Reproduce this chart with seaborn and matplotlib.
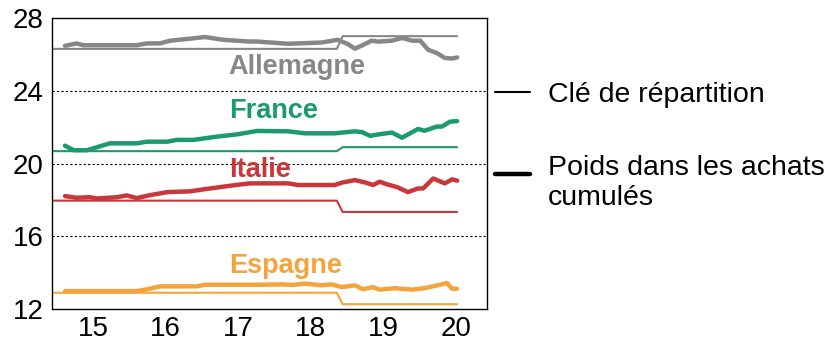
import matplotlib
matplotlib.use("Agg")
import matplotlib.pyplot as plt
import matplotlib.transforms as mtransforms
import numpy as np
import pandas as pd
import seaborn as sns

# Clé de répartition (dates en années décimales)
key_years = [2015.0, 2018.93, 2019.01, 2020.59]
key_de = [26.3, 26.3, 27.0, 27.0]
key_fr = [20.68, 20.68, 20.9, 20.9]
key_it = [17.96, 17.96, 17.34, 17.34]
key_es = [12.9, 12.9, 12.27, 12.27]

# Poids dans les achats cumulés
de_years = [2015.18, 2015.34, 2015.43, 2016.17, 2016.31, 2016.49, 2016.63, 2016.90, 2017.11,
            2017.36, 2017.73, 2017.80, 2018.26, 2018.72, 2018.94, 2019.08, 2019.18, 2019.32,
            2019.41, 2019.50, 2019.69, 2019.83, 2019.97, 2020.08, 2020.19, 2020.31, 2020.42,
            2020.52, 2020.59]
de_vals = [26.47, 26.6, 26.5, 26.5, 26.6, 26.6, 26.75, 26.86, 26.95,
           26.8, 26.7, 26.71, 26.58, 26.65, 26.8, 26.57, 26.31, 26.57,
           26.75, 26.7, 26.75, 26.9, 26.75, 26.75, 26.25, 26.07, 25.8,
           25.77, 25.83]

fr_years = [2015.18, 2015.30, 2015.48, 2015.80, 2016.17, 2016.31, 2016.59, 2016.72, 2016.95,
            2017.28, 2017.55, 2017.83, 2018.26, 2018.49, 2018.90, 2019.18, 2019.28, 2019.39,
            2019.50, 2019.69, 2019.83, 2019.94, 2020.05, 2020.14, 2020.31, 2020.38, 2020.49,
            2020.59]
fr_vals = [20.98, 20.73, 20.73, 21.11, 21.11, 21.2, 21.2, 21.3, 21.3,
           21.48, 21.6, 21.79, 21.77, 21.66, 21.66, 21.77, 21.72, 21.52,
           21.6, 21.7, 21.42, 21.66, 21.9, 21.8, 22.03, 22.03, 22.3,
           22.33]

it_years = [2015.18, 2015.34, 2015.52, 2015.62, 2015.90, 2016.03, 2016.17, 2016.35, 2016.59,
            2016.90, 2017.18, 2017.46, 2017.73, 2018.26, 2018.39, 2018.90, 2019.01, 2019.18,
            2019.32, 2019.43, 2019.52, 2019.63, 2019.77, 2019.91, 2020.05, 2020.12, 2020.26,
            2020.42, 2020.52, 2020.59]
it_vals = [18.21, 18.12, 18.15, 18.08, 18.15, 18.25, 18.1, 18.26, 18.43,
           18.47, 18.63, 18.78, 18.91, 18.91, 18.82, 18.82, 18.96, 19.09,
           18.96, 18.82, 19.0, 18.85, 18.69, 18.43, 18.63, 18.63, 19.18,
           18.91, 19.13, 19.06]

es_years = [2015.18, 2016.17, 2016.35, 2016.49, 2017.0, 2017.11, 2017.87, 2018.17, 2018.31,
            2018.49, 2018.72, 2018.86, 2019.0, 2019.18, 2019.29, 2019.43, 2019.52, 2019.73,
            2019.97, 2020.14, 2020.32, 2020.45, 2020.52, 2020.59]
es_vals = [12.99, 12.99, 13.12, 13.25, 13.25, 13.34, 13.34, 13.36, 13.33,
           13.4, 13.31, 13.36, 13.21, 13.31, 13.09, 13.21, 13.07, 13.15,
           13.07, 13.15, 13.31, 13.43, 13.12, 13.12]

countries = ["Allemagne", "France", "Italie", "Espagne"]
colors = ["#878787", "#1b9a6c", "#c8373a", "#f5a43c"]
year_labels = ["15", "16", "17", "18", "19", "20"]
y_ticks = [12, 16, 20, 24, 28]

sns.set_style("white")
plt.rcParams["font.family"] = ["Liberation Sans", "DejaVu Sans"]
plt.rcParams["text.color"] = "black"
plt.rcParams["xtick.color"] = "black"
plt.rcParams["ytick.color"] = "black"

fig = plt.figure(figsize=(8.38, 3.45), dpi=100)
ax = fig.add_axes([0.062, 0.104, 0.519, 0.844])

keys = [key_de, key_fr, key_it, key_es]
series = [(de_years, de_vals), (fr_years, fr_vals), (it_years, it_vals), (es_years, es_vals)]
for name, col, kv, (yrs, vals) in zip(countries, colors, keys, series):
    sns.lineplot(x=key_years, y=kv, ax=ax, color=col, linewidth=1.5, estimator=None)
    sns.lineplot(x=yrs, y=vals, ax=ax, color=col, linewidth=3.2, estimator=None)

# étiquettes des pays
label_pos = {"Allemagne": 24.93, "France": 22.5, "Italie": 19.27, "Espagne": 13.97}
for name, col in zip(countries, colors):
    ax.text(2017.44, label_pos[name], name, color=col, fontsize=19.5,
            fontweight="bold", ha="left", va="baseline")

ax.set_xlim(2015, 2021)
ax.set_ylim(12, 28)
ax.set_yticks(y_ticks)
ax.set_xticks(np.arange(2015, 2022))
ax.set_xticklabels([])
ax.set_xticks(np.arange(2015, 2021) + 0.57, minor=True)
ax.set_xticklabels(year_labels, minor=True)
ax.tick_params(axis="x", which="major", direction="out", length=7, width=1, color="black")
ax.tick_params(axis="x", which="minor", length=0, pad=5, labelsize=20, labelcolor="black")
ax.tick_params(axis="y", length=0, pad=6, labelsize=20, labelcolor="black")
for y in [16, 20, 24]:
    ax.axhline(y, color="black", linestyle=(0, (2, 2)), linewidth=0.8, zorder=0)
for s in ax.spines.values():
    s.set_visible(True)
    s.set_color("black")
    s.set_linewidth(1.0)
ax.set_xlabel("")
ax.set_ylabel("")

# légende manuelle
trans = mtransforms.blended_transform_factory(ax.transAxes, ax.transData)
ax.plot([1.018, 1.099], [23.92, 23.92], color="black", linewidth=1.5,
        transform=trans, clip_on=False)
ax.plot([1.018, 1.099], [19.4, 19.4], color="black", linewidth=3.2,
        transform=trans, clip_on=False)
ax.text(1.14, 23.4, "Clé de répartition", fontsize=20.5, ha="left", va="baseline",
        color="black", transform=trans)
ax.text(1.14, 19.37, "Poids dans les achats", fontsize=20.5, ha="left", va="baseline",
        color="black", transform=trans)
ax.text(1.14, 17.7, "cumulés", fontsize=20.5, ha="left", va="baseline",
        color="black", transform=trans)

fig.savefig("out.png", dpi=100)
